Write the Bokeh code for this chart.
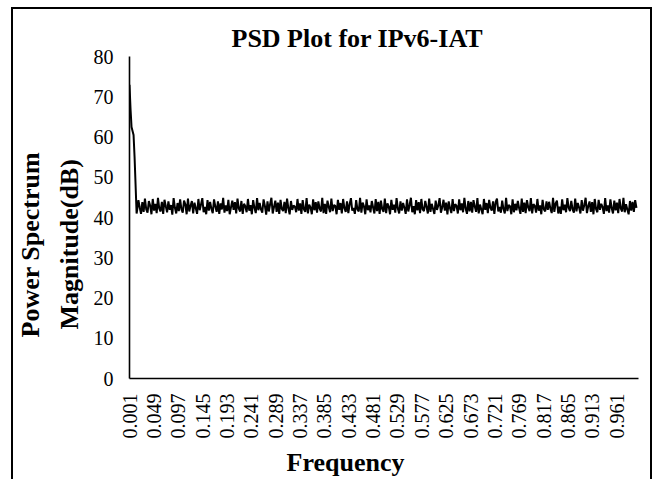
import numpy as np
from bokeh.plotting import figure
from bokeh.models import FixedTicker, Range1d, Title
from bokeh.embed import file_html
from bokeh.resources import INLINE

title_text = "PSD Plot for IPv6-IAT"
x_title = "Frequency"
y_title_lines = ["Power Spectrum", "Magnitude(dB)"]

tick_freqs = [0.001, 0.049, 0.097, 0.145, 0.193, 0.241, 0.289, 0.337, 0.385, 0.433, 0.481,
              0.529, 0.577, 0.625, 0.673, 0.721, 0.769, 0.817, 0.865, 0.913, 0.961]
tick_labels = ["0.001", "0.049", "0.097", "0.145", "0.193", "0.241", "0.289", "0.337", "0.385",
               "0.433", "0.481", "0.529", "0.577", "0.625", "0.673", "0.721", "0.769", "0.817",
               "0.865", "0.913", "0.961"]
y_ticks = [0, 10, 20, 30, 40, 50, 60, 70, 80]

peak_freq = [0.001, 0.003, 0.005, 0.007, 0.009, 0.011, 0.013, 0.015]
peak_db = [73.0, 67.0, 62.5, 61.5, 60.5, 55.0, 48.0, 41.0]

noise_db = [
    41.8, 44.3, 42.5, 40.9, 43.8, 41.4, 44.7, 42.0, 41.2, 44.1, 43.0, 40.8, 44.6, 41.7, 43.4, 41.1,
    44.9, 42.2, 41.5, 43.9, 40.9, 44.4, 42.8, 41.3, 44.0, 41.9, 43.1, 40.7, 44.8, 42.4, 41.0, 43.6,
    41.6, 44.5, 42.0, 41.2, 44.2, 43.3, 40.8, 44.7, 41.5, 42.9, 44.1, 41.0, 43.7, 42.3, 40.9, 44.6,
    41.8, 43.2, 44.8, 41.3, 42.6, 40.8, 44.3, 41.7, 43.9, 42.1, 41.1, 44.5, 42.7, 41.4, 44.0, 40.9,
    43.5, 42.0, 44.9, 41.2, 43.0, 41.6, 44.4, 40.8, 42.5, 44.2, 41.9, 43.8, 41.0, 44.7, 42.2, 41.5,
    44.1, 40.9, 43.4, 42.8, 41.3, 44.6, 41.7, 43.1, 40.8, 44.3, 42.4, 41.1, 44.8, 41.8, 43.6, 42.0,
    41.2, 44.5, 42.9, 40.7, 44.0, 41.5, 43.3, 44.9, 41.0, 42.6, 44.2, 41.4, 43.7, 40.9, 44.4, 42.1,
    41.6, 43.9, 41.1, 44.7, 42.3, 40.8, 44.1, 41.9, 43.0, 42.7, 41.3, 44.6, 41.7, 43.5, 40.9, 44.3,
    42.0, 41.4, 44.8, 41.0, 43.2, 42.5, 40.8, 44.5, 41.8, 43.8, 41.2, 44.0, 42.2, 41.5, 44.9, 41.1,
    43.4, 40.9, 44.2, 42.6, 41.3, 44.7, 41.6, 43.1, 42.9, 40.8, 44.4, 41.9, 43.6, 41.0, 44.6, 42.3,
    41.4, 44.0, 41.1, 43.3, 44.8, 41.7, 42.4, 40.9, 44.3, 42.0, 41.5, 44.9, 41.2, 43.7, 42.8, 40.8,
    44.5, 41.8, 43.0, 41.3, 44.1, 42.5, 41.0, 44.6, 41.6, 43.9, 40.9, 44.2, 42.1, 41.4, 44.7, 41.1,
    43.5, 42.7, 40.8, 44.4, 41.9, 43.2, 41.2, 44.8, 42.2, 41.0, 44.0, 41.7, 43.6, 42.4, 40.9, 44.5,
    41.5, 43.1, 44.9, 41.3, 42.8, 40.8, 44.3, 41.8, 43.8, 41.1, 44.6, 42.0, 41.6, 44.1, 42.6, 41.0,
    44.7, 41.4, 43.4, 42.1, 40.9, 44.2, 41.9, 43.0, 44.8, 41.2, 42.5, 44.4, 41.7, 43.7, 40.8, 44.0,
    42.3, 41.1, 44.6, 41.6, 43.3, 42.9, 41.0, 44.5, 41.8, 43.5, 41.3, 44.9, 42.2, 40.9, 44.1, 41.5,
    43.9, 41.2, 44.3, 42.7, 41.4, 44.8, 41.0, 43.2, 42.0, 40.8, 44.6, 41.9, 43.6, 41.1, 44.4, 42.4,
    41.7, 44.0, 40.9, 43.8, 44.7, 41.5, 42.6, 41.2, 44.2, 42.1, 41.0, 44.9, 41.6, 43.1, 42.8, 40.8,
    44.5, 41.3, 43.4, 41.8, 44.1, 42.3, 40.9, 44.7, 41.4, 43.7, 41.1, 44.3, 42.5, 41.6, 44.8, 41.0,
    43.3, 42.9, 41.2, 44.6, 41.7, 43.0, 40.8, 44.4, 42.0, 41.5, 44.0, 41.9, 43.9, 42.2, 41.1, 44.9,
    41.4, 43.5, 44.2, 41.0, 42.7, 40.9, 44.5, 41.8, 43.2, 41.3, 44.8, 42.4, 41.6, 44.1, 42.0, 41.2,
    44.7, 41.5, 43.6, 42.5, 41.0, 44.3, 41.7, 43.1, 44.9, 41.1, 42.8, 44.0, 41.4, 43.8, 40.8, 44.6,
    42.1, 41.3, 44.4, 41.9, 43.4, 42.6, 40.9, 44.8, 41.6, 43.0, 41.2, 44.5, 42.3, 41.0, 44.2, 41.8,
    43.7, 41.1, 44.6, 42.2, 41.5, 44.9, 41.3, 43.3, 42.0, 40.8, 44.1, 41.7, 43.9, 41.4, 44.3, 42.4,
]
noise_freq = list(np.linspace(0.016, 1.000, len(noise_db)))

freq = peak_freq + noise_freq
db = peak_db + noise_db

SERIF = "Liberation Serif"

p = figure(width=641, height=472, output_backend="svg", toolbar_location=None,
           x_range=Range1d(0.001, 1.004), y_range=Range1d(0, 80),
           min_border_left=115, min_border_right=16, min_border_top=47, min_border_bottom=101)
p.margin = (7, 0, 0, 11)
p.styles = {"border-left": "2px solid black", "border-top": "2px solid black",
            "border-right": "2px solid black"}
p.outline_line_color = None
p.xgrid.visible = False
p.ygrid.visible = False

p.line(freq, db, line_color="black", line_width=2)

p.xaxis.ticker = FixedTicker(ticks=tick_freqs)
p.xaxis.major_label_overrides = {f: l for f, l in zip(tick_freqs, tick_labels)}
p.xaxis.major_label_orientation = np.pi / 2
p.yaxis.ticker = FixedTicker(ticks=y_ticks)
for ax in (p.xaxis, p.yaxis):
    ax.major_tick_line_color = None
    ax.minor_tick_line_color = None
    ax.major_tick_out = 0
    ax.major_tick_in = 0
    ax.minor_tick_out = 0
    ax.minor_tick_in = 0
    ax.axis_line_color = "black"
    ax.axis_line_width = 1.6
    ax.major_label_text_font = SERIF
    ax.major_label_text_font_size = "20px"
    ax.major_label_text_color = "black"
p.xaxis.major_label_standoff = 15
p.yaxis.major_label_standoff = 16

# chart title
p.title = Title(text=title_text, align="left", offset=102, standoff=8,
                text_font=SERIF, text_font_size="26px", text_font_style="bold",
                text_color="black")

# axis titles, placed as separate titles so they can be offset like the original
p.add_layout(Title(text=x_title, align="left", offset=157, standoff=9,
                   text_font=SERIF, text_font_size="26px", text_font_style="bold",
                   text_color="black"), "below")
p.add_layout(Title(text=y_title_lines[1], align="left", offset=49, standoff=14,
                   text_font=SERIF, text_font_size="26px", text_font_style="bold",
                   text_color="black"), "left")
p.add_layout(Title(text=y_title_lines[0], align="left", offset=41, standoff=1,
                   text_font=SERIF, text_font_size="26px", text_font_style="bold",
                   text_color="black"), "left")

open("out.html", "w").write(file_html(p, INLINE))
